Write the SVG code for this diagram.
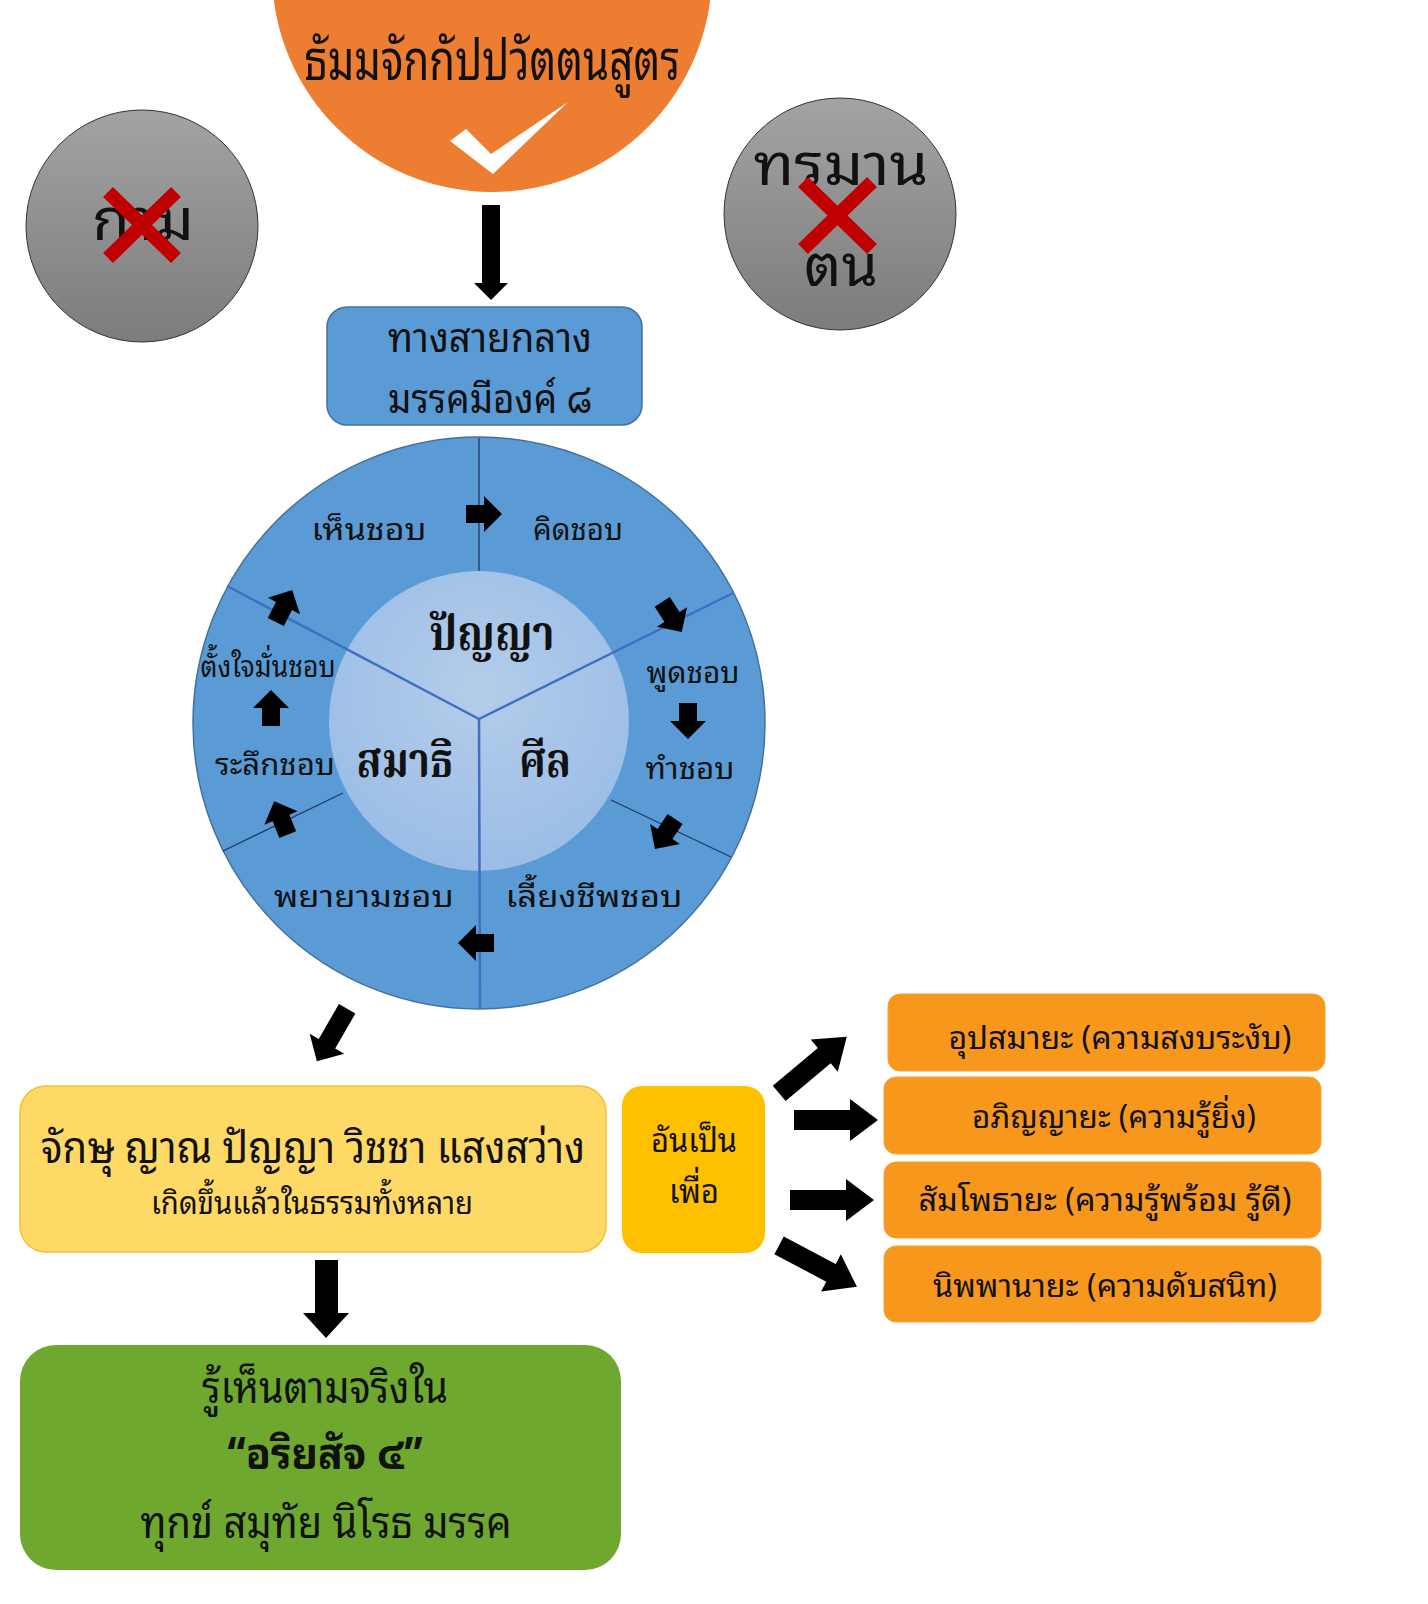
<svg xmlns="http://www.w3.org/2000/svg" xmlns:xlink="http://www.w3.org/1999/xlink" width="1428" height="1604" viewBox="0 0 1428 1604">
<defs>
<linearGradient id="gray" x1="0" y1="0" x2="0" y2="1">
<stop offset="0" stop-color="#a3a3a3"/><stop offset="1" stop-color="#7c7c7c"/>
</linearGradient>
<radialGradient id="inner" cx="0.5" cy="0.4" r="0.6">
<stop offset="0" stop-color="#b4cdea"/><stop offset="1" stop-color="#9bbde6"/>
</radialGradient>
<path id="sa" d="M-18,-9 H0 V-18 L18,0 L0,18 V9 H-18 Z"/>
<path id="ba" d="M-42,-10 H14 V-21 L42,0 L14,21 V10 H-42 Z"/>
</defs>
<style>
text{font-family:"Noto Sans Thai Looped","Noto Sans Thai","Noto Sans","Loma","Garuda","Tahoma",sans-serif;fill:#111;text-anchor:middle}
.ring{font-size:30px}
.deco{font-family:"Noto Serif Thai","Noto Serif","Norasi","Liberation Serif",serif;font-weight:bold;font-size:48px}
.ob{font-size:32px}
.arr{fill:#000}
.xx{stroke:#c00000;stroke-width:14;stroke-linecap:butt}
.div{stroke:#1f3864;stroke-width:1.3}
.yb{stroke:#3f6fc4;stroke-width:2.5}
.obox{fill:#f7981d;stroke:#f5a03a;stroke-width:1}
</style>

<g id="node-sutta">
<circle cx="492" cy="-28" r="220" fill="#ed7d31"/>
<text x="492" y="80" font-size="56" textLength="376" lengthAdjust="spacingAndGlyphs">ธัมมจักกัปปวัตตนสูตร</text>
<polygon points="450,141 466,129 491,154 568,102 493,174" fill="#fff"/>
</g>

<g id="node-kama">
<circle cx="142" cy="226" r="116" fill="url(#gray)" stroke="#333" stroke-width="1"/>
<text x="143" y="240" font-size="58" textLength="102" lengthAdjust="spacingAndGlyphs">กาม</text>
<line class="xx" x1="108" y1="192" x2="176" y2="258"/>
<line class="xx" x1="176" y1="192" x2="108" y2="258"/>
</g>

<g id="node-atta">
<circle cx="840" cy="214" r="116" fill="url(#gray)" stroke="#333" stroke-width="1"/>
<text x="841" y="185" font-size="58" textLength="175" lengthAdjust="spacingAndGlyphs">ทรมาน</text>
<text x="841" y="286" font-size="58" textLength="74" lengthAdjust="spacingAndGlyphs">ตน</text>
<line class="xx" x1="803" y1="182" x2="872" y2="249"/>
<line class="xx" x1="872" y1="182" x2="803" y2="249"/>
</g>

<g id="node-middle">
<rect x="327" y="307" width="315" height="118" rx="20" fill="#5b9bd5" stroke="#41719c" stroke-width="1.5"/>
<text x="490" y="352" font-size="40" textLength="204" lengthAdjust="spacingAndGlyphs">ทางสายกลาง</text>
<text x="490" y="413" font-size="40" textLength="204" lengthAdjust="spacingAndGlyphs">มรรคมีองค์ ๘</text>
</g>

<g id="node-wheel">
<circle cx="479" cy="723" r="286" fill="#5b9bd5" stroke="#41719c" stroke-width="1.5"/>
<circle cx="479" cy="721" r="150" fill="url(#inner)"/>
<line class="div" x1="479" y1="438" x2="479" y2="571"/>
<line class="div" x1="343" y1="793" x2="223" y2="851"/>
<line class="div" x1="611" y1="800" x2="731" y2="857"/>
<line class="yb" x1="479" y1="719" x2="227" y2="586"/>
<line class="yb" x1="479" y1="719" x2="733" y2="593"/>
<line class="yb" x1="479" y1="719" x2="480" y2="1008"/>
<text class="ring" x="369" y="540" textLength="115" lengthAdjust="spacingAndGlyphs">เห็นชอบ</text>
<text class="ring" x="578" y="540" textLength="90" lengthAdjust="spacingAndGlyphs">คิดชอบ</text>
<text class="ring" x="693" y="683" textLength="93" lengthAdjust="spacingAndGlyphs">พูดชอบ</text>
<text class="ring" x="690" y="779" textLength="89" lengthAdjust="spacingAndGlyphs">ทำชอบ</text>
<text class="ring" x="594" y="907" textLength="177" lengthAdjust="spacingAndGlyphs">เลี้ยงชีพชอบ</text>
<text class="ring" x="364" y="907" textLength="180" lengthAdjust="spacingAndGlyphs">พยายามชอบ</text>
<text class="ring" x="275" y="775" textLength="120" lengthAdjust="spacingAndGlyphs">ระลึกชอบ</text>
<text class="ring" x="268" y="677" textLength="135" lengthAdjust="spacingAndGlyphs">ตั้งใจมั่นชอบ</text>
<text class="deco" x="492" y="650" textLength="125" lengthAdjust="spacingAndGlyphs">ปัญญา</text>
<text class="deco" x="405" y="777" textLength="97" lengthAdjust="spacingAndGlyphs">สมาธิ</text>
<text class="deco" x="545" y="777" textLength="52" lengthAdjust="spacingAndGlyphs">ศีล</text>
</g>

<g id="node-insight">
<rect x="20" y="1086" width="586" height="166" rx="26" fill="#ffd966" stroke="#f2c233" stroke-width="1.5"/>
<text x="313" y="1163" font-size="44" textLength="544" lengthAdjust="spacingAndGlyphs">จักษุ ญาณ ปัญญา วิชชา แสงสว่าง</text>
<text x="312" y="1214" font-size="32" textLength="322" lengthAdjust="spacingAndGlyphs">เกิดขึ้นแล้วในธรรมทั้งหลาย</text>
</g>

<g id="node-for">
<rect x="622" y="1086" width="143" height="167" rx="20" fill="#ffc000"/>
<text x="694" y="1152" font-size="34" textLength="86" lengthAdjust="spacingAndGlyphs">อันเป็น</text>
<text x="694" y="1203" font-size="34" textLength="50" lengthAdjust="spacingAndGlyphs">เพื่อ</text>
</g>

<g id="node-r1"><rect class="obox" x="888" y="994" width="437" height="77" rx="12"/>
<text class="ob" x="1120" y="1049" textLength="343" lengthAdjust="spacingAndGlyphs">อุปสมายะ (ความสงบระงับ)</text></g>
<g id="node-r2"><rect class="obox" x="884" y="1077" width="437" height="77" rx="12"/>
<text class="ob" x="1114" y="1128" textLength="284" lengthAdjust="spacingAndGlyphs">อภิญญายะ (ความรู้ยิ่ง)</text></g>
<g id="node-r3"><rect class="obox" x="884" y="1162" width="437" height="76" rx="12"/>
<text class="ob" x="1105" y="1211" textLength="373" lengthAdjust="spacingAndGlyphs">สัมโพธายะ (ความรู้พร้อม รู้ดี)</text></g>
<g id="node-r4"><rect class="obox" x="884" y="1246" width="437" height="76" rx="12"/>
<text class="ob" x="1105" y="1297" textLength="344" lengthAdjust="spacingAndGlyphs">นิพพานายะ (ความดับสนิท)</text></g>

<g id="node-truth">
<rect x="20" y="1345" width="601" height="225" rx="36" fill="#6fa82e"/>
<text x="325" y="1403" font-size="44" textLength="246" lengthAdjust="spacingAndGlyphs">รู้เห็นตามจริงใน</text>
<text x="325" y="1469" font-size="44" font-weight="bold" textLength="195" lengthAdjust="spacingAndGlyphs">“อริยสัจ ๔”</text>
<text x="326" y="1538" font-size="44" textLength="371" lengthAdjust="spacingAndGlyphs">ทุกข์ สมุทัย นิโรธ มรรค</text>
</g>

<g id="connectors" class="arr">
<polygon points="482,205 500,205 500,283 508,283 491,300 474,283 482,283"/>
<use xlink:href="#sa" transform="translate(484,514)"/>
<use xlink:href="#sa" transform="translate(672,617) rotate(57)"/>
<use xlink:href="#sa" transform="translate(688,721) rotate(90)"/>
<use xlink:href="#sa" transform="translate(665,834) rotate(124)"/>
<use xlink:href="#sa" transform="translate(476,943) rotate(180)"/>
<use xlink:href="#sa" transform="translate(281,818) rotate(248)"/>
<use xlink:href="#sa" transform="translate(271,708) rotate(270)"/>
<use xlink:href="#sa" transform="translate(284,606) rotate(297)"/>
<use xlink:href="#ba" transform="translate(332,1035) rotate(120) scale(0.72,0.95)"/>
<use xlink:href="#ba" transform="translate(813,1065) rotate(-40) scale(1.05,1)"/>
<use xlink:href="#ba" transform="translate(836,1120)"/>
<use xlink:href="#ba" transform="translate(832,1200)"/>
<use xlink:href="#ba" transform="translate(818,1266) rotate(28) scale(1.05,1)"/>
<polygon points="315,1260 338,1260 338,1313 349,1313 326,1338 303,1313 315,1313"/>
</g>
</svg>
